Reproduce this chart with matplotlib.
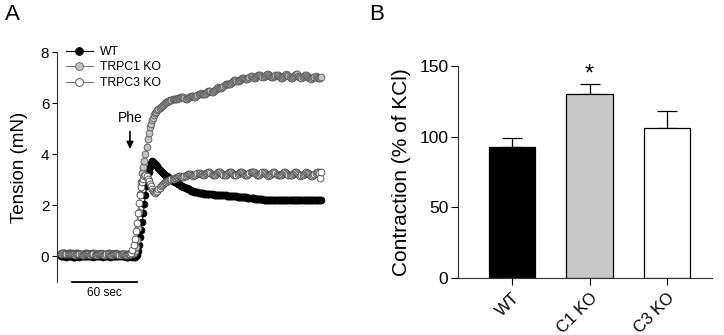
import numpy as np
import matplotlib.pyplot as plt

plt.rcParams['font.family'] = ['Liberation Sans', 'DejaVu Sans']

# Panel A: tension traces, one sample per second
seconds = np.arange(0, 241)

wt_tension = [
    0.03, 0.02, 0.01, 0.02, 0.00, -0.01, 0.00, 0.01, 0.02, 0.01,
    0.00, -0.01, -0.02, -0.01, 0.00, 0.01, 0.00, -0.01, 0.00, 0.01,
    0.02, 0.01, 0.00, 0.00, 0.01, 0.02, 0.03, 0.02, 0.01, 0.00,
    -0.01, 0.00, 0.01, 0.02, 0.01, 0.00, 0.00, 0.01, 0.00, -0.01,
    0.00, 0.01, 0.02, 0.01, 0.00, -0.01, 0.00, 0.01, 0.02, 0.01,
    0.00, 0.01, 0.02, 0.03, 0.02, 0.01, 0.00, 0.00, 0.01, 0.00,
    -0.01, -0.02, -0.01, 0.00, 0.01, 0.00, -0.01, -0.02, -0.01, 0.00,
    0.05, 0.20, 0.45, 0.75, 1.05, 1.35, 1.70, 2.05, 2.40, 2.75,
    3.05, 3.30, 3.50, 3.65, 3.72, 3.70, 3.66, 3.62, 3.58, 3.52,
    3.45, 3.40, 3.35, 3.31, 3.27, 3.23, 3.20, 3.16, 3.13, 3.10,
    3.07, 3.03, 3.00, 2.97, 2.95, 2.92, 2.90, 2.87, 2.85, 2.82,
    2.80, 2.77, 2.75, 2.72, 2.70, 2.68, 2.66, 2.64, 2.62, 2.60,
    2.58, 2.57, 2.55, 2.54, 2.53, 2.52, 2.51, 2.50, 2.49, 2.48,
    2.48, 2.47, 2.46, 2.46, 2.45, 2.45, 2.44, 2.44, 2.43, 2.43,
    2.43, 2.42, 2.42, 2.42, 2.41, 2.41, 2.41, 2.40, 2.40, 2.40,
    2.40, 2.39, 2.39, 2.38, 2.38, 2.37, 2.37, 2.36, 2.36, 2.36,
    2.36, 2.35, 2.35, 2.34, 2.34, 2.33, 2.33, 2.32, 2.32, 2.32,
    2.32, 2.31, 2.30, 2.30, 2.29, 2.28, 2.28, 2.27, 2.27, 2.26,
    2.26, 2.25, 2.25, 2.24, 2.24, 2.23, 2.23, 2.22, 2.22, 2.22,
    2.21, 2.21, 2.21, 2.20, 2.20, 2.20, 2.21, 2.21, 2.20, 2.20,
    2.20, 2.19, 2.19, 2.20, 2.20, 2.21, 2.21, 2.20, 2.20, 2.19,
    2.19, 2.20, 2.20, 2.21, 2.20, 2.20, 2.19, 2.19, 2.20, 2.20,
    2.21, 2.21, 2.20, 2.20, 2.19, 2.19, 2.20, 2.20, 2.21, 2.20,
    2.20, 2.19, 2.19, 2.20, 2.20, 2.21, 2.20, 2.20, 2.19, 2.20, 2.20,
]

trpc1_tension = [
    0.14, 0.15, 0.14, 0.13, 0.12, 0.11, 0.12, 0.13, 0.14, 0.13,
    0.12, 0.11, 0.10, 0.11, 0.12, 0.13, 0.12, 0.11, 0.10, 0.09,
    0.10, 0.11, 0.12, 0.13, 0.12, 0.11, 0.10, 0.10, 0.11, 0.12,
    0.13, 0.12, 0.11, 0.10, 0.09, 0.10, 0.11, 0.12, 0.11, 0.10,
    0.09, 0.10, 0.11, 0.12, 0.13, 0.12, 0.11, 0.10, 0.09, 0.10,
    0.11, 0.12, 0.11, 0.10, 0.09, 0.08, 0.09, 0.10, 0.11, 0.10,
    0.09, 0.08, 0.07, 0.08, 0.09, 0.10, 0.09, 0.12, 0.20, 0.38,
    0.63, 1.10, 1.75, 2.45, 2.90, 3.25, 3.50, 3.75, 4.00, 4.30,
    4.60, 4.85, 5.05, 5.20, 5.32, 5.42, 5.52, 5.60, 5.66, 5.72,
    5.77, 5.82, 5.86, 5.90, 5.94, 5.97, 6.00, 6.03, 6.06, 6.08,
    6.10, 6.12, 6.14, 6.15, 6.16, 6.17, 6.18, 6.18, 6.19, 6.20,
    6.21, 6.23, 6.24, 6.23, 6.20, 6.18, 6.17, 6.19, 6.22, 6.25,
    6.27, 6.28, 6.27, 6.25, 6.24, 6.26, 6.30, 6.34, 6.37, 6.38,
    6.37, 6.35, 6.34, 6.36, 6.40, 6.44, 6.47, 6.48, 6.47, 6.45,
    6.45, 6.48, 6.52, 6.57, 6.60, 6.62, 6.61, 6.60, 6.61, 6.64,
    6.68, 6.72, 6.75, 6.76, 6.75, 6.74, 6.75, 6.79, 6.83, 6.87,
    6.89, 6.89, 6.87, 6.86, 6.87, 6.90, 6.94, 6.97, 6.98, 6.97,
    6.94, 6.93, 6.95, 6.99, 7.03, 7.05, 7.05, 7.03, 7.00, 6.99,
    7.01, 7.05, 7.09, 7.11, 7.10, 7.07, 7.04, 7.03, 7.05, 7.09,
    7.12, 7.13, 7.11, 7.07, 7.03, 7.01, 7.02, 7.05, 7.09, 7.11,
    7.10, 7.06, 7.02, 6.99, 6.99, 7.02, 7.06, 7.10, 7.12, 7.11,
    7.07, 7.03, 7.00, 7.00, 7.03, 7.07, 7.11, 7.13, 7.12, 7.08,
    7.04, 7.01, 7.00, 7.02, 7.06, 7.09, 7.10, 7.08, 7.04, 7.00,
    6.97, 6.96, 6.98, 7.01, 7.04, 7.05, 7.03, 7.00, 6.98, 7.00, 7.03,
]

trpc3_tension = [
    0.10, 0.11, 0.12, 0.11, 0.10, 0.09, 0.08, 0.09, 0.10, 0.11,
    0.10, 0.09, 0.08, 0.07, 0.08, 0.09, 0.10, 0.09, 0.08, 0.07,
    0.06, 0.07, 0.08, 0.09, 0.10, 0.09, 0.08, 0.07, 0.08, 0.09,
    0.08, 0.07, 0.06, 0.07, 0.08, 0.09, 0.10, 0.09, 0.08, 0.07,
    0.06, 0.07, 0.08, 0.09, 0.08, 0.07, 0.06, 0.07, 0.08, 0.09,
    0.10, 0.09, 0.08, 0.07, 0.06, 0.07, 0.08, 0.09, 0.08, 0.07,
    0.06, 0.07, 0.08, 0.09, 0.10, 0.12, 0.24, 0.43, 0.70, 1.00,
    1.30, 1.70, 2.10, 2.40, 2.70, 2.90, 3.05, 3.15, 3.20, 3.15,
    3.05, 2.95, 2.85, 2.75, 2.65, 2.57, 2.52, 2.50, 2.52, 2.57,
    2.63, 2.69, 2.74, 2.78, 2.82, 2.86, 2.90, 2.93, 2.96, 2.98,
    3.00, 3.02, 3.03, 3.04, 3.05, 3.06, 3.08, 3.10, 3.12, 3.13,
    3.13, 3.12, 3.11, 3.11, 3.13, 3.16, 3.19, 3.21, 3.22, 3.21,
    3.19, 3.17, 3.16, 3.17, 3.20, 3.24, 3.27, 3.28, 3.27, 3.24,
    3.21, 3.19, 3.19, 3.21, 3.25, 3.28, 3.30, 3.29, 3.26, 3.22,
    3.19, 3.18, 3.19, 3.22, 3.26, 3.29, 3.31, 3.30, 3.27, 3.23,
    3.20, 3.18, 3.19, 3.22, 3.26, 3.30, 3.32, 3.31, 3.28, 3.24,
    3.20, 3.18, 3.18, 3.21, 3.25, 3.29, 3.31, 3.30, 3.27, 3.23,
    3.19, 3.17, 3.18, 3.21, 3.25, 3.29, 3.32, 3.32, 3.29, 3.25,
    3.21, 3.18, 3.18, 3.20, 3.24, 3.28, 3.30, 3.29, 3.26, 3.22,
    3.18, 3.16, 3.17, 3.20, 3.24, 3.28, 3.31, 3.31, 3.28, 3.24,
    3.20, 3.17, 3.17, 3.19, 3.23, 3.27, 3.30, 3.30, 3.27, 3.23,
    3.19, 3.17, 3.17, 3.20, 3.24, 3.28, 3.30, 3.29, 3.26, 3.22,
    3.18, 3.16, 3.17, 3.20, 3.24, 3.27, 3.29, 3.28, 3.25, 3.21,
    3.17, 3.15, 3.15, 3.18, 3.22, 3.26, 3.29, 3.30, 3.28, 3.08, 3.30,
]

trace_labels = ['WT', 'TRPC1 KO', 'TRPC3 KO']

# Panel B: contraction as % of KCl, mean and SEM
groups = ['WT', 'C1 KO', 'C3 KO']
contraction = [93, 130, 106]
contraction_sem = [6, 7, 12.5]

W, H = 724, 335
fig = plt.figure(figsize=(W / 100, H / 100), dpi=100)


# place an axes by its pixel box (left, top, right, bottom)
def px_axes(left, top, right, bottom):
    return fig.add_axes([left / W, 1 - bottom / H, (right - left) / W, (bottom - top) / H])


# ---- Panel A ----
axA = px_axes(57, 52, 331, 282)
styles = [
    dict(mfc='black', mec='black', color='black'),
    dict(mfc='#c4c4c4', mec='#555555', color='#808080'),
    dict(mfc='white', mec='#444444', color='#808080'),
]
for trace, label, st in zip([wt_tension, trpc1_tension, trpc3_tension], trace_labels, styles):
    axA.plot(seconds, trace, marker='o', ms=4.9, mew=0.6, lw=0.8, label=label, **st)

axA.set_xlim(-3.7, 249.3)
axA.set_ylim(-1, 8)
axA.set_yticks([0, 2, 4, 6, 8])
axA.set_xticks([])
for side in ['top', 'right', 'bottom']:
    axA.spines[side].set_visible(False)
axA.spines['left'].set_linewidth(0.8)
axA.spines['left'].set_color('#333333')
axA.tick_params(axis='y', direction='out', length=3.5, width=0.8, labelsize=11, pad=2)
axA.set_ylabel('Tension (mN)', fontsize=13.5)
axA.yaxis.set_label_coords((28 - 57) / 274, 0.5)

axA.legend(loc='upper left', bbox_to_anchor=(66 / W, 1 - 46 / H), bbox_transform=fig.transFigure,
           frameon=False, fontsize=8.8, handlelength=2.2, handletextpad=0.6, labelspacing=0.28,
           borderpad=0, borderaxespad=0, markerscale=1.15)

# Phe application arrow
axA.annotate('', xy=(63.7, 4.1), xytext=(63.7, 5.0),
             arrowprops=dict(arrowstyle='-|>', color='black', lw=1.2, mutation_scale=10))
axA.text(63.7, 5.42, 'Phe', ha='center', va='center', fontsize=10)

# time scale bar
axA.plot([10, 70], [-1, -1], color='black', lw=1.3, clip_on=False)
axA.text(40, -1.42, '60 sec', ha='center', va='center', fontsize=8.5)

fig.text(5 / W, 1 - 15 / H, 'A', fontsize=16, ha='left', va='center')

# ---- Panel B ----
axB = px_axes(458, 66, 712, 278)
xpos = np.arange(len(groups))
axB.bar(xpos, contraction, width=0.6, color=['black', '#c8c8c8', 'white'],
        edgecolor='black', linewidth=0.9, zorder=2)
axB.errorbar(xpos, contraction, yerr=[np.zeros(len(groups)), contraction_sem], fmt='none',
             ecolor='black', elinewidth=0.9, capsize=7, capthick=0.9, zorder=1)
axB.set_xlim(-0.7, 2.58)
axB.set_ylim(0, 150)
axB.set_yticks([0, 50, 100, 150])
axB.set_xticks(xpos)
axB.set_xticklabels(groups, rotation=45, ha='right', rotation_mode='anchor', fontsize=12)
for side in ['top', 'right']:
    axB.spines[side].set_visible(False)
for side in ['left', 'bottom']:
    axB.spines[side].set_linewidth(0.8)
    axB.spines[side].set_color('#333333')
axB.tick_params(axis='both', direction='out', length=5, width=0.8)
axB.tick_params(axis='y', labelsize=12.5, pad=2)
axB.tick_params(axis='x', pad=4)
axB.set_ylabel('Contraction (% of KCl)', fontsize=15)
axB.yaxis.set_label_coords((411 - 458) / 254, 0.5)

axB.text(1, 144, '*', ha='center', va='center', fontsize=17)

fig.text(369 / W, 1 - 15 / H, 'B', fontsize=16, ha='left', va='center')

fig.savefig('out.png', dpi=100)
